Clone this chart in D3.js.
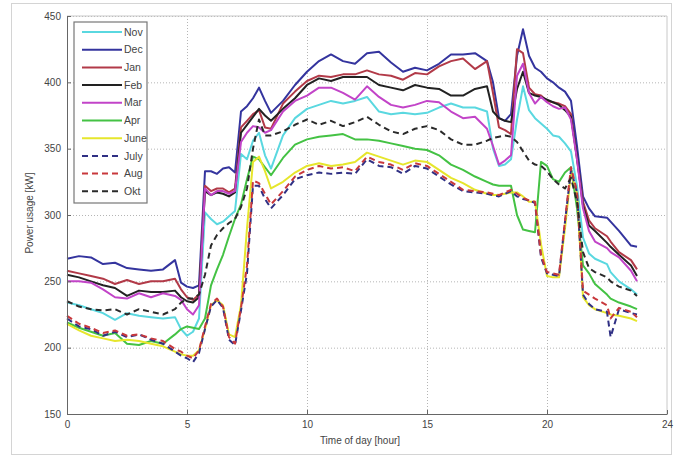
<!DOCTYPE html>
<html lang="en">
  <head>
    <meta charset="UTF-8" />
    <title>Power usage over the day</title>
    <script src="https://d3js.org/d3.v7.min.js"></script>
    <style>
      body {
        margin: 0;
        background: #fff;
        font-family: "Liberation Sans", Arial, sans-serif;
      }
      .axis text {
        font-size: 10px;
        fill: #444;
      }
    </style>
  </head>
  <body>
    <svg id="chart" width="688" height="457"></svg>
    <script>
      // Time of day (hours) of every sample
      const hours = [0, 0.5, 1, 1.5, 2, 2.5, 3, 3.5, 4, 4.5,
        4.75, 5, 5.25, 5.5, 5.75, 6, 6.25, 6.5, 6.75, 7, 7.25, 7.5, 7.75, 8, 8.25, 8.5,
        9, 9.5, 10, 10.5, 11, 11.5, 12, 12.5, 13, 13.5, 14, 14.5, 15, 15.5, 16, 16.5, 17, 17.5,
        17.75, 18, 18.25, 18.5, 18.75, 19, 19.25, 19.5, 19.75, 20, 20.25, 20.5, 20.75, 21, 21.25, 21.5, 21.75, 22,
        22.5, 22.65, 23, 23.5, 23.75];

      // Power usage [kW] per month
      const nov = [234, 232, 229, 226, 221, 226, 224, 223, 222, 223,
        214, 209, 212, 222, 302, 297, 293, 295, 299, 303, 346, 342, 356, 362, 345, 335,
        360, 373, 380, 383, 386, 384, 386, 389, 378, 376, 377, 376, 377, 381, 384, 381, 381, 378,
        350, 337, 338, 342, 372, 397, 379, 373, 369, 365, 360, 359, 354, 348, 322, 283, 271, 267,
        263, 257, 250, 244, 240];
      const dec = [267, 269, 268, 263, 264, 260, 259, 258, 259, 266,
        249, 246, 245, 247, 333, 333, 331, 335, 336, 332, 378, 382, 388, 396, 386, 377,
        386, 398, 408, 416, 421, 416, 414, 422, 423, 415, 408, 411, 409, 414, 421, 421, 422, 416,
        400, 373, 371, 376, 420, 440, 420, 411, 408, 403, 400, 396, 393, 386, 352, 314, 305, 299,
        298, 295, 288, 277, 276];
      const jan = [258, 256, 254, 252, 248, 251, 248, 250, 250, 252,
        244, 238, 236, 240, 322, 318, 320, 320, 317, 320, 366, 371, 376, 379, 366, 365,
        384, 393, 401, 405, 404, 406, 406, 409, 406, 405, 402, 407, 406, 412, 416, 418, 410, 416,
        392, 366, 364, 361, 425, 422, 396, 391, 390, 386, 385, 384, 382, 376, 342, 310, 296, 290,
        284, 280, 272, 266, 259];
      const feb = [255, 253, 250, 247, 245, 239, 243, 242, 242, 243,
        238, 235, 234, 238, 318, 315, 317, 316, 314, 317, 362, 368, 374, 380, 375, 371,
        380, 388, 398, 403, 401, 404, 404, 404, 398, 396, 394, 398, 396, 395, 390, 390, 395, 397,
        378, 373, 371, 370, 395, 408, 392, 390, 389, 387, 385, 383, 379, 374, 344, 307, 292, 288,
        279, 276, 270, 262, 254];
      const mar = [250, 250, 249, 244, 238, 237, 241, 238, 241, 239,
        236, 229, 225, 232, 320, 315, 318, 318, 316, 318, 355, 362, 367, 366, 362, 364,
        378, 386, 390, 396, 396, 392, 387, 397, 389, 383, 381, 383, 386, 385, 378, 373, 374, 365,
        352, 338, 341, 345, 405, 414, 392, 384, 389, 385, 382, 380, 381, 372, 342, 305, 288, 280,
        275, 272, 268, 258, 250];
      const apr = [219, 215, 212, 209, 211, 203, 202, 205, 203, 210,
        214, 216, 215, 214, 222, 247, 259, 270, 284, 297, 308, 327, 344, 342, 336, 330,
        343, 353, 357, 359, 360, 361, 357, 357, 356, 354, 352, 350, 349, 345, 338, 334, 329, 325,
        323, 322, 322, 322, 300, 289, 288, 287, 340, 337, 327, 325, 332, 336, 305, 262, 256, 248,
        240, 237, 234, 231, 229];
      const june = [218, 213, 209, 207, 205, 206, 205, 203, 201, 197,
        195, 194, 194, 198, 214, 232, 236, 232, 210, 208, 232, 290, 340, 344, 333, 320,
        325, 332, 337, 339, 337, 338, 340, 347, 344, 341, 338, 341, 340, 334, 328, 324, 319, 316,
        315, 315, 316, 317, 317, 314, 310, 310, 278, 254, 253, 253, 290, 332, 316, 238, 232, 229,
        226, 225, 224, 222, 220];
      const july = [222, 216, 214, 209, 212, 208, 210, 206, 203, 197,
        194, 192, 189, 196, 214, 231, 236, 230, 206, 202, 228, 256, 322, 322, 312, 305,
        315, 327, 330, 332, 331, 332, 331, 342, 337, 336, 331, 337, 335, 329, 323, 318, 317, 316,
        315, 314, 316, 318, 314, 312, 311, 309, 268, 256, 255, 254, 295, 334, 317, 240, 233, 229,
        227, 208, 229, 226, 225];
      const aug = [224, 218, 215, 211, 213, 209, 210, 207, 205, 199,
        197, 194, 192, 198, 216, 233, 237, 231, 208, 203, 230, 262, 326, 324, 316, 308,
        318, 329, 334, 337, 335, 336, 333, 344, 340, 338, 334, 339, 337, 331, 325, 319, 318, 317,
        316, 315, 317, 319, 316, 313, 311, 310, 270, 257, 256, 255, 296, 336, 318, 243, 240, 237,
        232, 222, 230, 227, 223];
      const okt = [235, 231, 229, 228, 229, 225, 229, 227, 225, 229,
        234, 237, 237, 240, 255, 277, 285, 290, 294, 297, 306, 320, 350, 372, 360, 360,
        363, 368, 372, 368, 371, 367, 370, 374, 368, 363, 361, 365, 367, 364, 357, 353, 353, 356,
        358, 359, 360, 359, 355, 348, 341, 338, 337, 333, 327, 323, 320, 328, 310, 272, 260, 257,
        253, 250, 246, 243, 239];

      const months = ["Nov", "Dec", "Jan", "Feb", "Mar", "Apr", "June", "July", "Aug", "Okt"];
      const values = [nov, dec, jan, feb, mar, apr, june, july, aug, okt];

      // Axis ticks
      const xTicks = [0, 5, 10, 15, 20, 25];
      const xTickLabels = ["0", "5", "10", "15", "20", "24"];
      const yTicks = [150, 200, 250, 300, 350, 400, 450];

      const colors = ["#5ad8e0", "#34349e", "#b23a48", "#222222", "#c244c8",
        "#44c244", "#e6e62c", "#303084", "#c8383c", "#2a2a2a"];
      const dashed = [false, false, false, false, false, false, false, true, true, true];

      const margin = { top: 16, right: 21, bottom: 43, left: 67 };
      const width = 688 - margin.left - margin.right;
      const height = 457 - margin.top - margin.bottom;

      const root = d3.select("#chart");

      // light outer frame of the figure
      root.append("rect")
        .attr("x", 11.5).attr("y", 3.5)
        .attr("width", 660).attr("height", 451)
        .attr("fill", "none")
        .attr("stroke", "#d4d4d4");

      const svg = root.append("g")
        .attr("transform", `translate(${margin.left},${margin.top})`);

      const x = d3.scaleLinear().domain([0, 25]).range([0, width]);
      const y = d3.scaleLinear().domain([150, 450]).range([height, 0]);

      // Dotted grid
      svg.append("g")
        .attr("class", "grid")
        .call(d3.axisBottom(x).tickValues(xTicks.slice(1, -1)).tickSize(height).tickFormat(""))
        .call((g) => g.select(".domain").remove())
        .selectAll("line")
        .attr("stroke", "#b5b5b5")
        .attr("stroke-dasharray", "1,2");

      svg.append("g")
        .attr("class", "grid")
        .call(d3.axisLeft(y).tickValues(yTicks.slice(1)).tickSize(-width).tickFormat(""))
        .call((g) => g.select(".domain").remove())
        .selectAll("line")
        .attr("stroke", "#b5b5b5")
        .attr("stroke-dasharray", "1,2");

      // Box top and right
      svg.append("line")
        .attr("x1", 0).attr("x2", width).attr("y1", 0).attr("y2", 0)
        .attr("stroke", "#c8c8c8");
      svg.append("line")
        .attr("x1", width).attr("x2", width).attr("y1", 0).attr("y2", height)
        .attr("stroke", "#c8c8c8");

      // Lines
      const line = d3.line()
        .x((d, i) => x(hours[i]))
        .y((d) => y(d));

      values.forEach((vals, k) => {
        svg.append("path")
          .datum(vals)
          .attr("fill", "none")
          .attr("stroke", colors[k])
          .attr("stroke-width", 2)
          .attr("stroke-linejoin", "round")
          .attr("stroke-dasharray", dashed[k] ? "6,4" : null)
          .attr("d", line);
      });

      // Axes
      svg.append("g")
        .attr("class", "axis")
        .attr("transform", `translate(0,${height})`)
        .call(d3.axisBottom(x).tickValues(xTicks)
          .tickFormat((d, i) => xTickLabels[i])
          .tickSizeInner(-4).tickSizeOuter(0).tickPadding(7))
        .call((g) => g.selectAll("line, path").attr("stroke", "#666"));

      svg.append("g")
        .attr("class", "axis")
        .call(d3.axisLeft(y).tickValues(yTicks)
          .tickSizeInner(-4).tickSizeOuter(0).tickPadding(6))
        .call((g) => g.selectAll("line, path").attr("stroke", "#666"));

      // Axis titles
      svg.append("text")
        .attr("x", 360 - margin.left)
        .attr("y", 444 - margin.top)
        .attr("text-anchor", "middle")
        .attr("font-size", 10)
        .attr("fill", "#444")
        .text("Time of day [hour]");

      svg.append("text")
        .attr("transform", `translate(${33 - margin.left},${213 - margin.top}) rotate(-90)`)
        .attr("text-anchor", "middle")
        .attr("font-size", 10)
        .attr("fill", "#444")
        .text("Power usage [kW]");

      // Legend
      const legend = svg.append("g")
        .attr("transform", `translate(${74 - margin.left},${22 - margin.top})`);

      legend.append("rect")
        .attr("width", 73).attr("height", 181)
        .attr("fill", "#fff")
        .attr("stroke", "#777")
        .attr("stroke-width", 1.2);

      const item = legend.selectAll(".item")
        .data(months)
        .join("g")
        .attr("class", "item")
        .attr("transform", (d, i) => `translate(0,${10 + i * 17.7})`);

      item.append("line")
        .attr("x1", 8).attr("x2", 48)
        .attr("stroke", (d, i) => colors[i])
        .attr("stroke-width", 2)
        .attr("stroke-dasharray", (d, i) => (dashed[i] ? "6,4" : null));

      item.append("text")
        .attr("x", 50)
        .attr("dy", "0.35em")
        .attr("font-size", 10.5)
        .attr("fill", "#444")
        .text((d) => d);
    </script>
  </body>
</html>
